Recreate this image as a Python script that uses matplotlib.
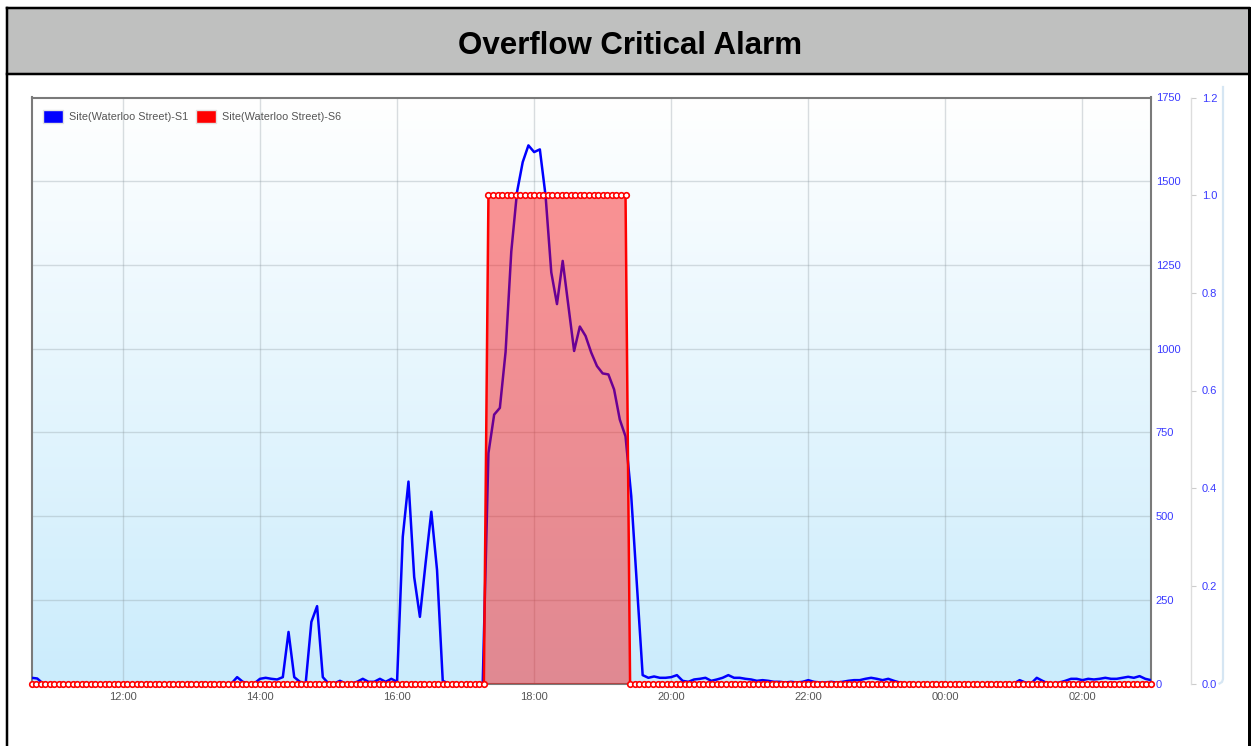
import numpy as np
import pandas as pd
import matplotlib
matplotlib.use("Agg")
import matplotlib.pyplot as plt
import matplotlib.dates as mdates
from matplotlib.lines import Line2D
from matplotlib.patches import Rectangle
from matplotlib.colors import LinearSegmentedColormap

# ---------------------------------------------------------------- data
title = "Overflow Critical Alarm"
series_names = ["Site(Waterloo Street)-S1", "Site(Waterloo Street)-S6"]
series_colors = ["#0000ff", "#ff0000"]

start_time = "2016-05-20 10:40"

# S1 level, one reading every 5 minutes from 10:40 to 03:00
s1_values = [
    17, 15, 0, 0,                                               # 10:40-10:55
    0, 0, 0, 0, 0, 0, 0, 0, 0, 0, 0, 0,                         # 11:00
    0, 0, 0, 0, 0, 0, 0, 0, 0, 0, 0, 0,                         # 12:00
    0, 0, 0, 0, 0, 0, 0, 0, 19, 5, 0, 0,                        # 13:00
    14, 17, 14, 12, 19, 154, 19, 5, 0, 184, 231, 19,            # 14:00
    0, 0, 8, 0, 0, 5, 14, 5, 5, 14, 5, 14,                      # 15:00
    5, 438, 603, 318, 199, 360, 513, 339, 8, 0, 0, 0,           # 16:00
    0, 0, 0, 0, 688, 803, 823, 990, 1290, 1467, 1557, 1607,     # 17:00
    1587, 1595, 1457, 1228, 1133, 1262, 1128, 993, 1066, 1038, 988, 948,  # 18:00
    926, 923, 878, 788, 738, 560, 290, 25, 17, 21, 17, 17,      # 19:00
    19, 25, 8, 5, 12, 14, 17, 8, 12, 17, 25, 17,                # 20:00
    17, 14, 12, 8, 10, 8, 5, 5, 3, 5, 3, 5,                     # 21:00
    10, 5, 3, 3, 5, 3, 5, 8, 10, 10, 14, 17,                    # 22:00
    14, 10, 14, 8, 3, 0, 0, 0, 0, 0, 0, 0,                      # 23:00
    0, 0, 0, 0, 0, 0, 0, 0, 0, 0, 0, 0,                         # 00:00
    0, 10, 3, 0, 17, 8, 0, 0, 3, 8, 14, 14,                     # 01:00
    10, 14, 12, 14, 17, 14, 14, 17, 20, 17, 22, 14,             # 02:00
    10,                                                         # 03:00
]
s1_step = "5min"

# S6 alarm state (0 = off, 1 = on), one reading every 4 minutes, as runs
s6_runs = [(0, 100), (1, 31), (0, 115)]
s6_step = "4min"

left_ticks = [0, 250, 500, 750, 1000, 1250, 1500, 1750]
right_ticks = [0.0, 0.2, 0.4, 0.6, 0.8, 1.0, 1.2]

# ---------------------------------------------------------------- series
s1_times = pd.date_range(start_time, periods=len(s1_values), freq=s1_step)
s6_values = np.concatenate([np.full(n, v, dtype=float) for v, n in s6_runs])
s6_times = pd.date_range(start_time, periods=len(s6_values), freq=s6_step)
x_start, x_end = s1_times[0], s1_times[-1]

# ---------------------------------------------------------------- figure
W, H = 1252, 746
fig = plt.figure(figsize=(W / 100, H / 100), dpi=100)
fig.patch.set_facecolor("white")
plt.rcParams["font.family"] = ["Liberation Sans", "DejaVu Sans"]


def fx(x):
    return x / W


def fy(y):
    return 1 - y / H


def pline(xs, ys, px, color="black", z=10):
    fig.add_artist(Line2D([fx(v) for v in xs], [fy(v) for v in ys],
                          transform=fig.transFigure, lw=px * 0.72,
                          color=color, zorder=z, solid_capstyle="projecting"))


# title bar and frame
fig.add_artist(Rectangle((fx(7), fy(73.5)), fx(1249) - fx(7), fy(8) - fy(73.5),
                         transform=fig.transFigure, facecolor="#bfc0bf",
                         edgecolor="none", zorder=1))
pline([7, 1249], [8, 8], 2.5)
pline([7, 1249], [73.5, 73.5], 2.5)
pline([7.3, 7.3], [8, 746], 2.5)
pline([1248.6, 1248.6], [8, 746], 3)
fig.text(fx(630), fy(53.5), title, ha="center", va="baseline",
         fontsize=22.5, fontweight="bold", color="black")

# plot area
L, R, T, B = 31.5, 1151, 97.5, 683.5
rect = [fx(L), fy(B), fx(R) - fx(L), fy(T) - fy(B)]

bg = fig.add_axes(rect, zorder=0)
bg.axis("off")
grad_cmap = LinearSegmentedColormap.from_list("sky", ["#cbecfc", "#ffffff"])
bg.imshow(np.linspace(0, 1, 256).reshape(-1, 1)[::-1], cmap=grad_cmap,
          aspect="auto", extent=[0, 1, 0, 1], interpolation="bilinear")
bg.set_xlim(0, 1)
bg.set_ylim(0, 1)

ax = fig.add_axes(rect, zorder=1)
ax.patch.set_visible(False)
ax.plot(s1_times, s1_values, color=series_colors[0], lw=1.8, zorder=3,
        solid_joinstyle="round")
ax.set_xlim(x_start, x_end)
ax.set_ylim(left_ticks[0], left_ticks[-1])
ax.set_yticks(left_ticks)
ax.xaxis.set_major_locator(mdates.HourLocator(byhour=range(0, 24, 2)))
ax.xaxis.set_major_formatter(mdates.DateFormatter("%H:%M"))
ax.tick_params(axis="x", which="both", length=0, pad=6, labelsize=8,
               labelcolor="#555555", top=False)
ax.grid(True, color="#8a979e", alpha=0.32, lw=1)
for s in ax.spines.values():
    s.set_color("#7a7a7a")
    s.set_linewidth(1.5)

ax2 = ax.twinx()
# level scale labels sit just right of the plot box
ax.yaxis.tick_right()
ax.yaxis.set_label_position("right")
ax.tick_params(axis="y", which="both", left=False, right=True, labelleft=False,
               labelright=True, length=0, pad=3.5, labelsize=8,
               labelcolor="#3a3aff")
ax.minorticks_off()

ax2.fill_between(s6_times, s6_values, 0, color=series_colors[1], alpha=0.42,
                 lw=0, zorder=2)
ax2.plot(s6_times, s6_values, color=series_colors[1], lw=1.8, marker="o",
         markersize=4.0, markerfacecolor="white", markeredgecolor=series_colors[1],
         markeredgewidth=1.2, clip_on=False, zorder=4)
ax2.set_ylim(right_ticks[0], right_ticks[-1])
ax2.set_yticks(right_ticks)
ax2.minorticks_off()
ax2.yaxis.set_major_formatter(matplotlib.ticker.FormatStrFormatter("%.1f"))
for side in ["top", "left", "bottom"]:
    ax2.spines[side].set_visible(False)
ax2.spines["right"].set_position(("outward", 40 * 0.72))
ax2.spines["right"].set_color("#dddddd")
ax2.spines["right"].set_linewidth(1)
ax2.tick_params(axis="y", which="major", left=False, length=3.8, width=0.8,
                color="#cccccc", pad=4, labelsize=8, labelcolor="#3a3aff")
ax2.set_xlim(x_start, x_end)

# thin scroll rail on the far right
fig.add_artist(Line2D([fx(1223), fx(1223), fx(1222), fx(1219.5)],
                      [fy(87), fy(679), fy(682), fy(683.5)],
                      transform=fig.transFigure, lw=1.6, color="#d6e6f3",
                      zorder=2))

# legend
leg_items = [(43, 69), (196, 222)]
for (bx, tx), name, col in zip(leg_items, series_names, series_colors):
    fig.add_artist(Rectangle((fx(bx), fy(123)), fx(20), fy(110) - fy(123),
                             transform=fig.transFigure, facecolor=col,
                             edgecolor="#e2e2e2", lw=1.0, zorder=6))
    fig.text(fx(tx), fy(116.5), name, ha="left", va="center", fontsize=7.8,
             color="#555555", zorder=6)

fig.savefig("out.png", dpi=100)
